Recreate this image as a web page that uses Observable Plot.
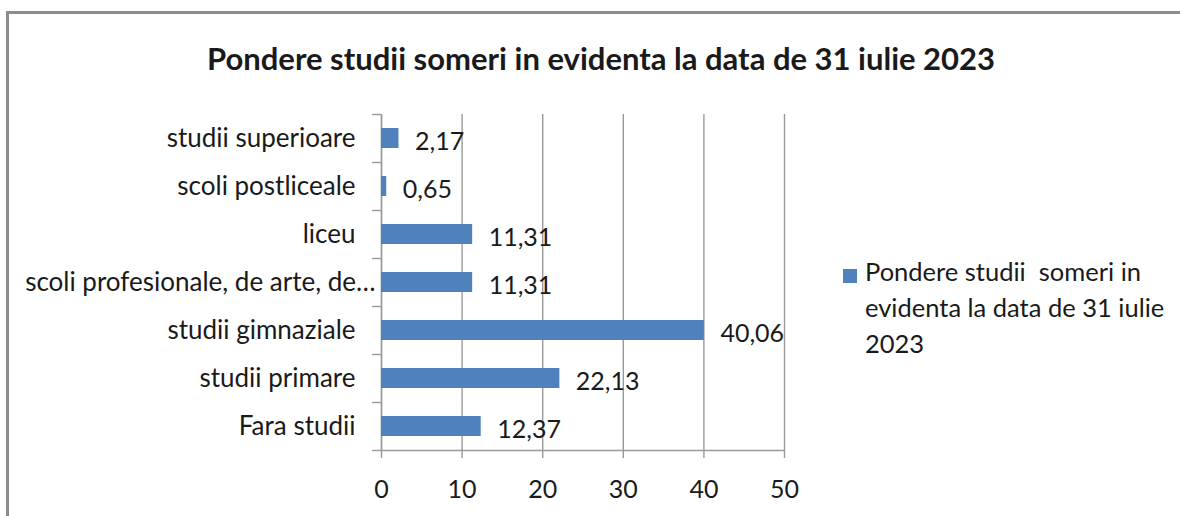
<!DOCTYPE html>
<html>
<head>
<meta charset="utf-8">
<script src="https://cdn.jsdelivr.net/npm/d3@7"></script>
<script src="https://cdn.jsdelivr.net/npm/@observablehq/plot@0.6"></script>
<style>
  html, body { margin: 0; padding: 0; background: #fff; }
  #wrap { position: relative; width: 1180px; height: 516px; overflow: hidden; font-family: Lato, sans-serif; color: #1a1a1a; }
  #frame { position: absolute; left: 6px; top: 11px; width: 2000px; height: 2000px; border: 3px solid #8c8c8c; box-sizing: border-box; }
  #title { position: absolute; left: 0; top: 40px; width: 1202px; text-align: center; font-weight: bold; font-size: 31px; line-height: 36px; white-space: nowrap; }
  #chart { position: absolute; left: 0; top: 0; }
  #legend { position: absolute; left: 843px; top: 253px; font-size: 25.5px; line-height: 36px; white-space: pre; }
  #legend .sw { position: absolute; left: 0; top: 16px; width: 14px; height: 14px; background: #4f81bd; }
  #legend .tx { position: absolute; left: 22px; top: 0; }
</style>
</head>
<body>
<div id="wrap">
  <div id="frame"></div>
  <div id="title"></div>
  <div id="chart"></div>
  <div id="legend"><div class="sw"></div><div class="tx"></div></div>
</div>
<script>
const title = "Pondere studii someri in evidenta la data de 31 iulie 2023";
const seriesLines = ["Pondere studii  someri in", "evidenta la data de 31 iulie", "2023"];
// bottom to top
const categories = ["Fara studii", "studii primare", "studii gimnaziale", "scoli profesionale, de arte, de…", "liceu", "scoli postliceale", "studii superioare"];
const values = [12.37, 22.13, 40.06, 11.31, 11.31, 0.65, 2.17];
const xTicks = [0, 10, 20, 30, 40, 50];

const data = categories.map((c, i) => ({cat: c, i, v: values[i], label: values[i].toFixed(2).replace(".", ",")}));
const longLabel = categories[3];

document.getElementById("title").textContent = title;
document.querySelector("#legend .tx").textContent = seriesLines.join("\n");

const grid = "#9a9a9a";
const chart = Plot.plot({
  width: 1180,
  height: 516,
  marginLeft: 381,
  marginRight: 396,
  marginTop: 114,
  marginBottom: 66,
  style: {fontFamily: "Lato, sans-serif", fontSize: "25px", color: "#1a1a1a", background: "transparent", overflow: "visible"},
  x: {domain: [0, 50], label: null},
  y: {domain: [0, 7], label: null},
  marks: [
    Plot.gridX(xTicks, {stroke: grid, strokeOpacity: 1, strokeWidth: 1.4}),
    Plot.axisX({ticks: xTicks, tickSize: 8, tickPadding: 22, stroke: grid, strokeWidth: 1.4, label: null, tickFormat: d => String(d)}),
    Plot.axisY({ticks: d3.range(0, 8), tickSize: 9, stroke: grid, strokeWidth: 1.4, label: null, tickFormat: () => ""}),
    Plot.ruleX([0], {stroke: grid, strokeWidth: 1.4}),
    Plot.ruleY([0], {stroke: grid, strokeWidth: 1.4}),
    Plot.rectX(data, {x1: 0, x2: "v", y1: "i", y2: d => d.i + 1, insetTop: 14, insetBottom: 14, fill: "#4f81bd"}),
    Plot.text(data, {x: "v", y: d => d.i + 0.5, text: "label", textAnchor: "start", dx: 16, dy: 3}),
    Plot.text(data.filter(d => d.cat !== longLabel), {x: 0, y: d => d.i + 0.5, text: "cat", textAnchor: "end", dx: -26, fontSize: 26}),
    Plot.text(data.filter(d => d.cat === longLabel), {x: 0, y: d => d.i + 0.5, text: "cat", textAnchor: "end", dx: -6, fontSize: 26})
  ]
});
document.getElementById("chart").appendChild(chart);
</script>
</body>
</html>
